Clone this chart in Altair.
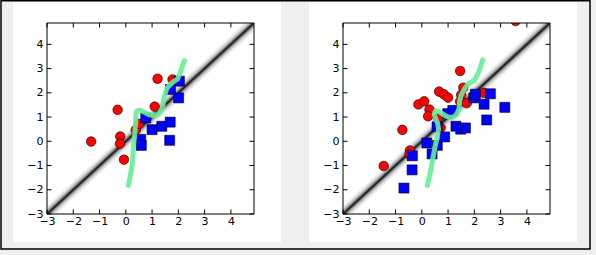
import altair as alt
import pandas as pd

# ---------------- data ----------------
tick_values = [-3, -2, -1, 0, 1, 2, 3, 4]
axis_lo, axis_hi = -3, 4.88
diag = [-4, 6]

left_red_x = [-1.32, -0.31, -0.21, -0.22, -0.07, 0.38, 0.50, 1.10, 1.21, 1.78]
left_red_y = [-0.01, 1.30, 0.20, -0.10, -0.76, 0.47, 0.72, 1.43, 2.58, 2.55]
left_blue_x = [2.04, 1.70, 2.01, 0.76, 1.00, 1.37, 1.69, 1.67, 0.57, 0.59]
left_blue_y = [2.48, 2.14, 1.79, 0.96, 0.48, 0.62, 0.79, 0.04, 0.08, -0.17]
left_curve_x = [0.10, 0.16, 0.25, 0.29, 0.34, 0.38, 0.38, 0.42, 0.52, 0.70, 0.88,
                1.02, 1.18, 1.30, 1.40, 1.46, 1.52, 1.59, 1.78, 1.97, 2.10, 2.23]
left_curve_y = [-1.82, -1.48, -0.93, -0.24, 0.30, 0.86, 1.10, 1.25, 1.29, 1.20, 1.10,
                1.06, 1.08, 1.20, 1.41, 1.82, 2.05, 2.23, 2.43, 2.57, 2.92, 3.33]

right_red_x = [-1.45, -0.74, -0.45, -0.47, -0.13, 0.09, 0.29, 0.24, 0.66, 0.84,
               1.00, 1.46, 1.58, 1.50, 1.46, 1.71, 0.62, 0.72, 2.35, 3.57]
right_red_y = [-1.02, 0.47, -0.38, -0.54, 1.52, 1.65, 1.31, 1.03, 2.05, 1.94,
               1.80, 2.90, 2.21, 1.91, 1.65, 1.57, 0.95, 0.55, 2.00, 4.96]
right_blue_x = [-0.68, -0.37, -0.36, 0.19, 0.39, 0.59, 0.87, 0.58, 0.99, 1.18,
                1.30, 1.48, 1.66, 1.98, 2.04, 2.37, 2.47, 2.61, 3.16]
right_blue_y = [-1.93, -1.18, -0.60, -0.07, -0.52, -0.17, 0.18, 0.60, 1.14, 1.27,
                0.62, 0.50, 0.55, 1.79, 1.94, 1.53, 0.88, 1.96, 1.40]
right_curve_x = [0.21, 0.28, 0.34, 0.42, 0.50, 0.58, 0.64, 0.60, 0.52, 0.47, 0.53, 0.72,
                 0.90, 1.04, 1.20, 1.32, 1.42, 1.44, 1.50, 1.60, 1.76, 2.00, 2.19, 2.32]
right_curve_y = [-1.82, -1.50, -1.20, -0.70, -0.25, 0.15, 0.50, 0.75, 0.95, 1.13, 1.27, 1.18,
                 1.05, 0.99, 1.00, 1.10, 1.34, 1.68, 1.90, 2.12, 2.37, 2.50, 2.92, 3.36]

# ---------------- styling ----------------
W, H = 207, 191
FONT = "DejaVu Sans"
BG = "#efefef"
RED, BLUE, GREEN = "#ff0000", "#0000ff", "#66ee99"
band_layers = [(13, 0.05), (10, 0.08), (7.5, 0.12), (5, 0.22), (3, 0.4), (1.6, 0.6)]

sc = alt.Scale(domain=[axis_lo, axis_hi], nice=False, zero=False)
ax_x = alt.Axis(values=tick_values, labelExpr="replace(datum.label, '-', '\u2212')",
                ticks=False, domain=False, grid=False, labelPadding=1, zindex=2,
                labelFlush=False, labelOverlap=False)
ax_y = alt.Axis(values=tick_values, labelExpr="replace(datum.label, '-', '\u2212')",
                ticks=False, domain=False, grid=False, labelPadding=4, zindex=2,
                labelFlush=False, labelOverlap=False)


def X(field="x"):
    return alt.X(f"{field}:Q", scale=sc, axis=ax_x, title=None)


def Y(field="y"):
    return alt.Y(f"{field}:Q", scale=sc, axis=ax_y, title=None)


def panel(rx, ry, bx, by, cx, cy, first):
    layers = []
    if first:
        # page background covering the whole figure
        layers.append(alt.Chart(pd.DataFrame({"a": [0]})).mark_rect(fill=BG).encode(
            x=alt.value(-47), x2=alt.value(549), y=alt.value(-23), y2=alt.value(232)))
    # white figure panel
    layers.append(alt.Chart(pd.DataFrame({"a": [0]})).mark_rect(fill="white").encode(
        x=alt.value(-34), x2=alt.value(234), y=alt.value(-21), y2=alt.value(219)))
    # diagonal blurred band
    dd = pd.DataFrame({"x": diag, "y": diag})
    for w, o in band_layers:
        layers.append(alt.Chart(dd).mark_line(color="black", strokeWidth=w, opacity=o,
                                              clip=True).encode(x=X(), y=Y()))
    red = pd.DataFrame({"x": rx, "y": ry})
    blue = pd.DataFrame({"x": bx, "y": by})
    curve = pd.DataFrame({"x": cx, "y": cy, "i": list(range(len(cx)))})
    layers.append(alt.Chart(red).mark_point(shape="circle", filled=True, fill=RED,
                                            stroke="black", strokeWidth=0.6, size=92,
                                            opacity=1, clip=True).encode(x=X(), y=Y()))
    layers.append(alt.Chart(blue).mark_point(shape="square", filled=True, fill=BLUE,
                                             stroke="black", strokeWidth=0.6, size=100,
                                             opacity=1, clip=True).encode(x=X(), y=Y()))
    layers.append(alt.Chart(curve).mark_line(color=GREEN, strokeWidth=5, opacity=0.9,
                                             strokeCap="round", strokeJoin="round",
                                             clip=True).encode(x=X(), y=Y(), order="i:Q"))
    tk = pd.DataFrame({"x": tick_values, "y": tick_values})
    L = 4.5
    layers.append(alt.Chart(tk).mark_rule(color="black", strokeWidth=1).encode(
        x=X(), y=alt.value(H), y2=alt.value(H - L)))
    layers.append(alt.Chart(tk).mark_rule(color="black", strokeWidth=1).encode(
        x=X(), y=alt.value(0), y2=alt.value(L)))
    layers.append(alt.Chart(tk).mark_rule(color="black", strokeWidth=1).encode(
        y=Y(), x=alt.value(0), x2=alt.value(L)))
    layers.append(alt.Chart(tk).mark_rule(color="black", strokeWidth=1).encode(
        y=Y(), x=alt.value(W), x2=alt.value(W - L)))
    # axes frame
    layers.append(alt.Chart(pd.DataFrame({"a": [0]})).mark_rect(
        fillOpacity=0, stroke="black", strokeWidth=1).encode(
        x=alt.value(0), x2=alt.value(W), y=alt.value(0), y2=alt.value(H)))
    if not first:
        # outer figure border
        layers.append(alt.Chart(pd.DataFrame({"a": [0]})).mark_rect(
            fillOpacity=0, stroke="black", strokeWidth=1.5).encode(
            x=alt.value(-342), x2=alt.value(247), y=alt.value(-22.2), y2=alt.value(226)))
    return alt.layer(*layers).properties(width=W, height=H)


left = panel(left_red_x, left_red_y, left_blue_x, left_blue_y, left_curve_x, left_curve_y, True)
right = panel(right_red_x, right_red_y, right_blue_x, right_blue_y, right_curve_x, right_curve_y, False)

chart = alt.hconcat(left, right, spacing=89, bounds="flush").properties(
    padding=0, background=BG
).configure_view(stroke=None).configure_axis(
    labelFont=FONT, labelFontSize=11, labelColor="black"
)

chart.save("out.html", embed_options={"renderer": "svg", "actions": False})
